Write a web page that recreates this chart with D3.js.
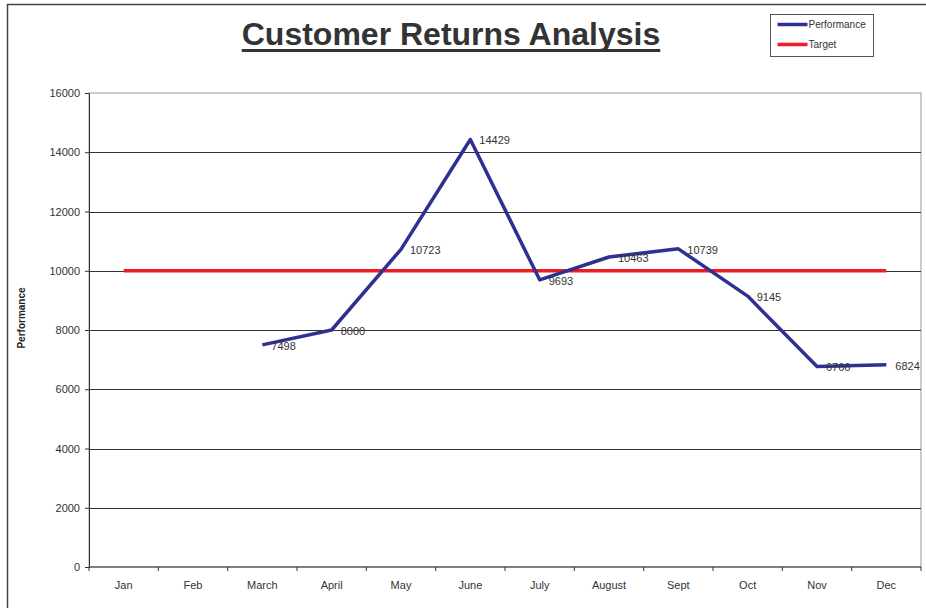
<!DOCTYPE html>
<html>
<head>
<meta charset="utf-8">
<script src="https://cdn.jsdelivr.net/npm/d3@7"></script>
<style>
  body { margin: 0; background: #fff; }
  text { font-family: "Liberation Sans", Arial, sans-serif; }
</style>
</head>
<body>
<svg id="chart" width="926" height="608"></svg>
<script>
const months = ["Jan", "Feb", "March", "April", "May", "June", "July", "August", "Sept", "Oct", "Nov", "Dec"];
const performance = [null, null, 7498, 8000, 10723, 14429, 9693, 10463, 10739, 9145, 6766, 6824];
const target = [10000, 10000, 10000, 10000, 10000, 10000, 10000, 10000, 10000, 10000, 10000, 10000];
const yTicks = [0, 2000, 4000, 6000, 8000, 10000, 12000, 14000, 16000];

const svg = d3.select("#chart");
const margin = { left: 89, right: 5, top: 93, bottom: 41 };
const width = 926 - margin.left - margin.right;
const height = 608 - margin.top - margin.bottom;

// outer chart frame
svg.append("path")
    .attr("d", "M7.5,608 V4.5 H926")
    .attr("fill", "none")
    .attr("stroke", "#444")
    .attr("stroke-width", 1.5);

const g = svg.append("g").attr("transform", `translate(${margin.left},${margin.top})`);

const x = d3.scaleBand().domain(months).range([0, width]);
const y = d3.scaleLinear().domain([0, 16000]).range([height, 0]);

// plot area border
g.append("rect")
    .attr("width", width).attr("height", height)
    .attr("fill", "none").attr("stroke", "#999").attr("stroke-width", 1);

// gridlines
g.selectAll("line.grid")
    .data(yTicks.slice(1, -1))
    .join("line")
    .attr("class", "grid")
    .attr("x1", 0).attr("x2", width)
    .attr("y1", d => Math.round(y(d)) + 0.5).attr("y2", d => Math.round(y(d)) + 0.5)
    .attr("stroke", "#333").attr("stroke-width", 1);

// y axis
const yAxis = g.append("g")
    .call(d3.axisLeft(y).tickValues(yTicks).tickSize(4).tickPadding(5).tickFormat(d3.format("d")));
yAxis.select(".domain").attr("stroke", "#333");
yAxis.selectAll("line").attr("stroke", "#333");
yAxis.selectAll("text").attr("font-size", 11).attr("fill", "#333")
    .attr("font-family", "'Liberation Sans', Arial, sans-serif");

// x axis with ticks between categories
const xAxis = g.append("g").attr("transform", `translate(0,${height})`);
xAxis.append("line").attr("x1", 0).attr("x2", width).attr("stroke", "#333");
xAxis.selectAll("line.tick")
    .data(d3.range(months.length + 1))
    .join("line")
    .attr("class", "tick")
    .attr("x1", i => i * x.step()).attr("x2", i => i * x.step())
    .attr("y1", 0).attr("y2", 4)
    .attr("stroke", "#333");
xAxis.selectAll("text")
    .data(months)
    .join("text")
    .attr("x", d => x(d) + x.bandwidth() / 2)
    .attr("y", 22)
    .attr("text-anchor", "middle")
    .attr("font-size", 11)
    .attr("fill", "#333")
    .text(d => d);

// y axis title
svg.append("text")
    .attr("transform", "translate(25,318) rotate(-90)")
    .attr("text-anchor", "middle")
    .attr("font-size", 10)
    .attr("font-weight", "bold")
    .attr("fill", "#222")
    .text("Performance");

const cx = (d, i) => x(months[i]) + x.bandwidth() / 2;

// target line
g.append("path")
    .datum(target)
    .attr("fill", "none")
    .attr("stroke", "#ED1C24")
    .attr("stroke-width", 3.5)
    .attr("d", d3.line().x(cx).y(d => y(d)));

// performance line
g.append("path")
    .datum(performance)
    .attr("fill", "none")
    .attr("stroke", "#2E3192")
    .attr("stroke-width", 3.5)
    .attr("stroke-linejoin", "round")
    .attr("d", d3.line().defined(d => d !== null).x(cx).y(d => y(d)));

// data labels
g.selectAll("text.lbl")
    .data(performance.map((v, i) => ({ v, i })).filter(d => d.v !== null))
    .join("text")
    .attr("class", "lbl")
    .attr("x", d => cx(d.v, d.i) + 9)
    .attr("y", d => y(d.v) + 1)
    .attr("dy", "0.35em")
    .attr("font-size", 11)
    .attr("fill", "#333")
    .text(d => d.v);

// title
const title = svg.append("text")
    .attr("x", 451).attr("y", 45)
    .attr("text-anchor", "middle")
    .attr("font-size", 32)
    .attr("font-weight", "bold")
    .attr("fill", "#333")
    .text("Customer Returns Analysis");
const tb = title.node().getBBox();
svg.append("rect")
    .attr("x", tb.x).attr("y", 49)
    .attr("width", tb.width).attr("height", 3)
    .attr("fill", "#333");

// legend
const legend = svg.append("g").attr("transform", "translate(770.5,14.5)");
legend.append("rect").attr("width", 103).attr("height", 42)
    .attr("fill", "#fff").attr("stroke", "#555").attr("stroke-width", 1);
const legendItems = [
    { name: "Performance", color: "#2E3192" },
    { name: "Target", color: "#ED1C24" }
];
legendItems.forEach((d, i) => {
    const yy = 10 + i * 20;
    legend.append("line").attr("x1", 7).attr("x2", 37).attr("y1", yy).attr("y2", yy)
        .attr("stroke", d.color).attr("stroke-width", 3.5);
    legend.append("text").attr("x", 38).attr("y", yy).attr("dy", "0.35em")
        .attr("font-size", 10).attr("fill", "#333").text(d.name);
});
</script>
</body>
</html>
